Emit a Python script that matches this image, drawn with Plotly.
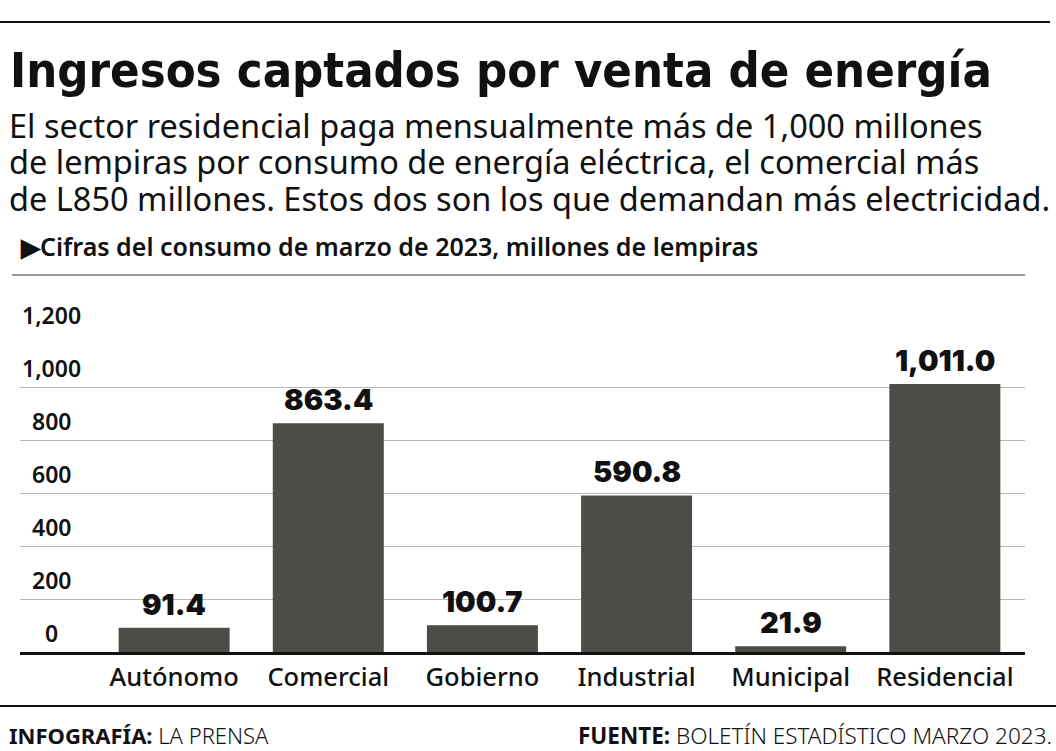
import plotly.graph_objects as go

categories = ["Autónomo", "Comercial", "Gobierno", "Industrial", "Municipal", "Residencial"]
values = [91.4, 863.4, 100.7, 590.8, 21.9, 1011.0]
value_labels = ["91.4", "863.4", "100.7", "590.8", "21.9", "1,011.0"]
y_ticks = [0, 200, 400, 600, 800, 1000, 1200]
y_tick_labels = ["0", "200", "400", "600", "800", "1,000", "1,200"]

title = "Ingresos captados por venta de energía"
subtitle_lines = [
    "El sector residencial paga mensualmente más de 1,000 millones",
    "de lempiras por consumo de energía eléctrica, el comercial más",
    "de L850 millones. Estos dos son los que demandan más electricidad.",
]
unit_note = "▶Cifras del consumo de marzo de 2023, millones de lempiras"
credit = "<b>INFOGRAFÍA:</b> LA PRENSA"
source = "<b>FUENTE:</b> BOLETÍN ESTADÍSTICO MARZO 2023."

W, H = 1056, 751
L, R, T, B = 20, 1025, 334, 652


def px(x):
    return (x - L) / (R - L)


def py(y):
    return (B - y) / (B - T)


BODY = "Noto Sans, Open Sans, sans-serif"
COND = "DejaVu Sans Condensed, Liberation Sans Narrow, sans-serif"

fig = go.Figure()
fig.add_trace(go.Bar(
    x=categories, y=values,
    marker=dict(color="#4d4d48", line=dict(width=0)),
    hoverinfo="skip",
))

ann = []
for c, v, t in zip(categories, values, value_labels):
    ann.append(dict(x=c, y=v, xref="x", yref="y", text=t, showarrow=False,
                    yanchor="bottom", yshift=4,
                    font=dict(family="Inter, Noto Sans, sans-serif", size=29, color="#111", weight=900)))
for v, t in zip(y_ticks, y_tick_labels):
    ann.append(dict(x=px(51), y=v, xref="paper", yref="y", text=t, showarrow=False,
                    xanchor="center", yanchor="bottom", yshift=1,
                    font=dict(family=BODY, size=23, color="#111", weight=600)))
ann.append(dict(x=px(8), y=py(70), xref="paper", yref="paper", text=title, showarrow=False,
                xanchor="left", yanchor="middle",
                font=dict(family=COND, size=48.5, color="#111", weight=900)))
for i, line in enumerate(subtitle_lines):
    ann.append(dict(x=px(7), y=py(126 + 36 * i), xref="paper", yref="paper", text=line,
                    showarrow=False, xanchor="left", yanchor="middle",
                    font=dict(family=BODY, size=32.5, color="#111")))
ann.append(dict(x=px(18), y=py(246), xref="paper", yref="paper", text=unit_note, showarrow=False,
                xanchor="left", yanchor="middle",
                font=dict(family=BODY, size=25, color="#111", weight=600)))
ann.append(dict(x=px(7), y=py(735), xref="paper", yref="paper", text=credit, showarrow=False,
                xanchor="left", yanchor="middle",
                font=dict(family=BODY, size=22, color="#111", weight=300)))
ann.append(dict(x=px(1054), y=py(735), xref="paper", yref="paper", text=source, showarrow=False,
                xanchor="right", yanchor="middle",
                font=dict(family=BODY, size=22.5, color="#111", weight=300)))

shapes = [
    dict(type="line", xref="paper", yref="paper", x0=px(0), x1=px(1050), y0=py(22), y1=py(22),
         line=dict(color="#111", width=2)),
    dict(type="line", xref="paper", yref="paper", x0=px(12), x1=px(1025), y0=py(275), y1=py(275),
         line=dict(color="#333", width=1)),
    dict(type="line", xref="paper", yref="paper", x0=px(0), x1=px(1056), y0=py(706), y1=py(706),
         line=dict(color="#111", width=2)),
]

fig.update_layout(
    width=W, height=H,
    margin=dict(l=L, r=W - R, t=T, b=H - B, pad=0),
    paper_bgcolor="white", plot_bgcolor="white",
    showlegend=False,
    bargap=0.28,
    annotations=ann, shapes=shapes,
    xaxis=dict(range=[-1.0, 5.52], showgrid=False, zeroline=False,
               showline=True, linecolor="#111", linewidth=3,
               ticks="", tickfont=dict(family=BODY, size=25.5, color="#111", weight=500),
               fixedrange=True),
    yaxis=dict(range=[0, 1200], tickvals=y_ticks, showticklabels=False,
               showgrid=True, gridcolor="#b8b8b8", gridwidth=1, zeroline=False,
               fixedrange=True),
)

fig.write_html("out.html", config={"displayModeBar": False},
               post_script="document.body.style.margin='0';document.body.style.overflow='hidden';")
